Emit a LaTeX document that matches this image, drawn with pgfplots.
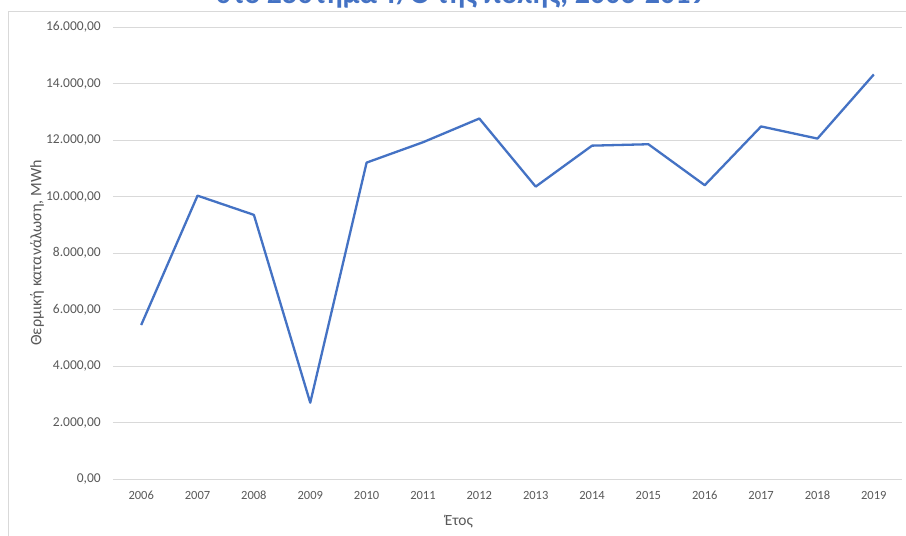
\documentclass[border=0pt]{standalone}
\usepackage{pgfplots}
\pgfplotsset{compat=1.18}
\usepackage{fontspec}
\setmainfont{Carlito}
\definecolor{xlblue}{HTML}{4472C4}
\definecolor{ticktxt}{HTML}{595959}
\definecolor{gridc}{HTML}{D9D9D9}
\definecolor{framec}{HTML}{D9D9D9}
\begin{document}
\begin{tikzpicture}[x=1pt,y=1pt]
\clip (0pt,0pt) rectangle (906pt,536pt);
\fill[white] (0pt,0pt) rectangle (906pt,536pt);
\draw[framec, line width=1pt] (8pt,0pt) -- (8pt,524pt) -- (906pt,524pt);
\node[anchor=base, font=\fontsize{30}{34}\selectfont\bfseries, text=xlblue, inner sep=0pt] at (461pt,532pt) {στο Σύστημα Τ/Θ της πόλης, 2006-2019};
\begin{axis}[
  at={(113pt,57pt)}, anchor=south west,
  scale only axis, width=789pt, height=452pt,
  xmin=-0.5, xmax=13.5, ymin=0, ymax=16000,
  axis line style={draw=none},
  major tick length=0pt,
  xtick={0,...,13},
  xticklabels={2006,2007,2008,2009,2010,2011,2012,2013,2014,2015,2016,2017,2018,2019},
  ytick={0,2000,...,16000},
  ymajorgrids, grid style={gridc, line width=0.8pt},
  /pgf/number format/assume math mode=true,
  yticklabel style={/pgf/number format/fixed, /pgf/number format/fixed zerofill, /pgf/number format/precision=2, /pgf/number format/use comma, /pgf/number format/1000 sep={.}},
  yticklabel style={font=\fontsize{13.5}{15}\selectfont, text=ticktxt, inner sep=0pt, xshift=-12pt},
  xticklabel style={font=\fontsize{12.5}{14}\selectfont, text=ticktxt, inner sep=0pt, anchor=base, yshift=-20pt},
  scaled y ticks=false,
  ylabel={Θερμική κατανάλωση, MWh},
  xlabel={Έτος},
  ylabel style={at={(axis description cs:-0.0963,0.5)}, anchor=center, font=\fontsize{16}{18}\selectfont, text=ticktxt},
  xlabel style={at={(axis description cs:0.4385,-0.0951)}, anchor=center, font=\fontsize{15.5}{17}\selectfont, text=ticktxt},
  clip=false,
]
\addplot[xlblue, line width=2.3pt, line join=round, mark=none] coordinates {
(0,5450) (1,10030) (2,9350) (3,2700) (4,11200) (5,11920) (6,12760)
(7,10350) (8,11800) (9,11850) (10,10400) (11,12480) (12,12050) (13,14320)
};
\end{axis}
\end{tikzpicture}
\end{document}
